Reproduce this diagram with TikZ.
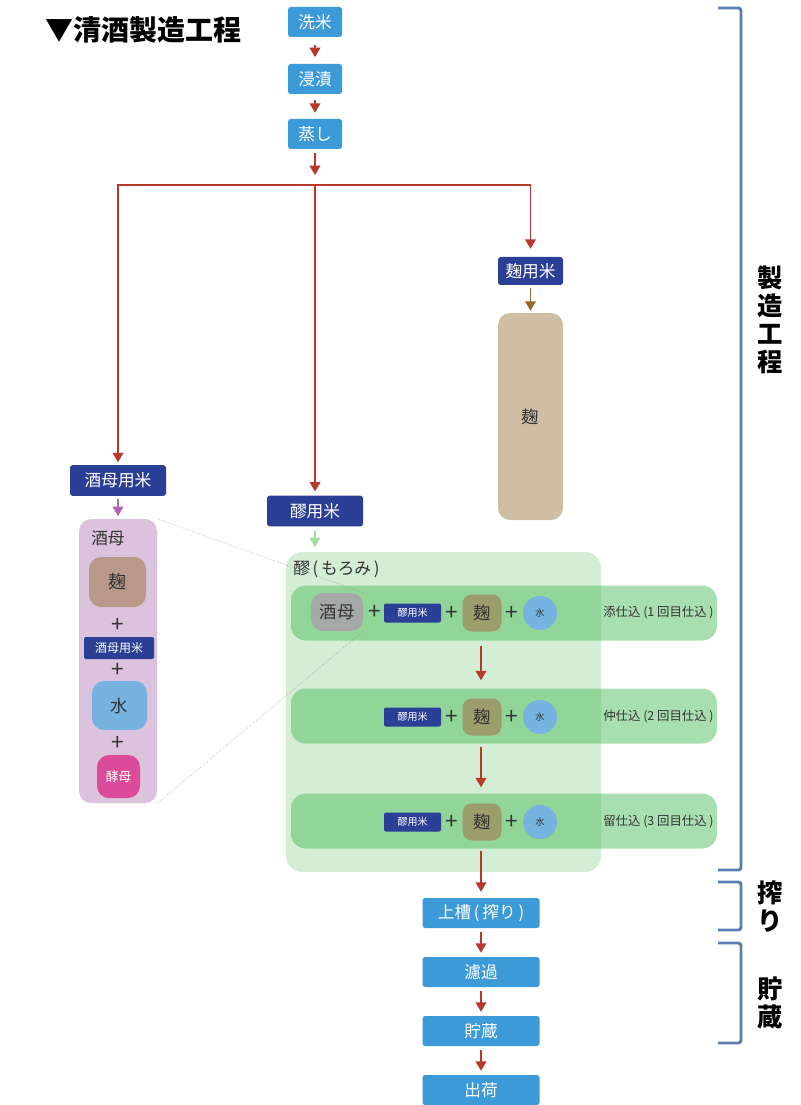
\documentclass[tikz,border=0pt]{standalone}
\usepackage{fontspec}
\setmainfont{Noto Sans CJK JP}
\usetikzlibrary{arrows.meta,positioning}

\definecolor{stepblue}{HTML}{3D9AD8}
\definecolor{riceblue}{HTML}{2B3F97}
\definecolor{flowred}{HTML}{B8392C}
\definecolor{kojitan}{HTML}{CEBFA4}
\definecolor{shubolilac}{HTML}{DBC3DE}
\definecolor{kojimauve}{HTML}{B9998A}
\definecolor{waterblue}{HTML}{77B3E0}
\definecolor{yeastpink}{HTML}{DC4B9A}
\definecolor{moromigreen}{HTML}{D4EED6}
\definecolor{rowgreen}{HTML}{44B953}
\definecolor{shubogray}{HTML}{A6A9A8}
\definecolor{kojiolive}{HTML}{9C9D6C}
\definecolor{bracketblue}{HTML}{5B7EB2}
\definecolor{inktext}{HTML}{333333}

\begin{document}
\begin{tikzpicture}[
        x=0.75pt, y=-0.75pt,
        every node/.style = {inner sep=0pt, align=center},
        stepbox/.style = {fill=stepblue, rounded corners=2pt, text=white, minimum width=40.5pt, minimum height=22.5pt, font=\fontsize{12.5}{14}\selectfont},
        ricebox/.style = {fill=riceblue, rounded corners=2pt, text=white, minimum width=72pt, minimum height=23pt, font=\fontsize{12.5}{14}\selectfont},
        smallrice/.style = {fill=riceblue, rounded corners=1.5pt, text=white, minimum width=42.75pt, minimum height=14.25pt, font=\fontsize{7.5}{9}\selectfont},
        blob/.style = {rounded corners=9pt, text=inktext},
        water/.style = {circle, fill=waterblue, minimum size=25.5pt, text=inktext, font=\fontsize{7}{8}\selectfont},
        plus/.style = {text=inktext, font=\fontsize{17}{17}\selectfont},
        rowband/.style = {fill=rowgreen, fill opacity=0.46, rounded corners=11pt, minimum width=319.5pt, minimum height=41.25pt},
        rowlabel/.style = {anchor=west, text=inktext, font=\fontsize{9.3}{11}\selectfont},
        flow/.style = {-{Triangle[width=8pt,length=7pt]}, draw=flowred, line width=1pt},
        bracket/.style = {draw=bracketblue, line width=2.2pt, rounded corners=2pt},
        sidelabel/.style = {font=\fontsize{19}{21}\selectfont\bfseries}
    ]
    \useasboundingbox (0,0) rectangle (800,1105);

    \node[anchor=west, font=\fontsize{21}{24}\selectfont\bfseries] (title) at (45,30) {▼清酒製造工程};

    % main line
    \node[stepbox] (senmai) at (315,22) {洗米};
    \node[stepbox] (shinseki) at (315,79) {浸漬};
    \node[stepbox] (mushi) at (315,134) {蒸し};
    \coordinate (split) at (315,185);

    \node[ricebox, minimum width=48.75pt, minimum height=21pt] (kojimai) at (530.5,271) {麹用米};
    \node[blob, fill=kojitan, minimum width=48.75pt, minimum height=155.25pt, font=\fontsize{13}{14}\selectfont] (koji) at (530.5,416.5) {麹};

    \node[ricebox] (shubomai) at (118,480.5) {酒母用米};
    \node[ricebox] (moromimai) at (315,511) {醪用米};

    % shubo
    \node[fill=shubolilac, rounded corners=9pt, minimum width=58.5pt, minimum height=213pt] (shubo) at (118,661) {};
    \node[anchor=west, text=inktext, font=\fontsize{12.5}{14}\selectfont] (shubolabel) at (91,538) {酒母};
    \node[blob, fill=kojimauve, minimum width=42.75pt, minimum height=37.5pt, font=\fontsize{13.5}{14}\selectfont] (shubokoji) at (117.5,582) {麹};
    \node[plus] (plusS1) at (118,625) {+};
    \node[smallrice, minimum width=52.5pt, minimum height=16.5pt, font=\fontsize{9}{10}\selectfont] (shuborice) at (119,648) {酒母用米};
    \node[plus] (plusS2) at (118,670) {+};
    \node[blob, fill=waterblue, minimum width=41.25pt, minimum height=36.75pt, font=\fontsize{13}{14}\selectfont] (shubomizu) at (119.5,705.5) {水};
    \node[plus] (plusS3) at (118,743) {+};
    \node[blob, fill=yeastpink, text=white, minimum size=32.25pt, font=\fontsize{9.5}{10}\selectfont] (kobo) at (118.5,776.5) {酵母};

    % moromi
    \node[fill=moromigreen, rounded corners=12pt, minimum width=236.25pt, minimum height=240pt] (moromi) at (443.5,712) {};
    \node[anchor=west, text=inktext, font=\fontsize{12.5}{14}\selectfont] (moromilabel) at (293,569) {醪\,(\,もろみ\,)};

    \node[rowband] (rowA) at (504,613) {};
    \node[rowband] (rowB) at (504,716) {};
    \node[rowband] (rowC) at (504,821) {};

    \node[blob, fill=shubogray, minimum width=39pt, minimum height=28.5pt, font=\fontsize{13}{14}\selectfont] (shuboA) at (337,612) {酒母};
    \node[plus] (plusA0) at (375,612) {+};
    \foreach \r/\y in {A/613, B/717, C/822} {
        \node[smallrice] (rice\r) at (412.5,\y) {醪用米};
        \node[plus] (plus\r1) at (451.5,\y) {+};
        \node[blob, fill=kojiolive, rounded corners=7pt, minimum width=29.25pt, minimum height=27.75pt, font=\fontsize{13}{14}\selectfont] (koji\r) at (482,\y) {麹};
        \node[plus] (plus\r2) at (511.5,\y) {+};
        \node[water] (mizu\r) at (540,\y) {水};
    }
    \node[rowlabel] (labelA) at (603,613) {添仕込 (1 回目仕込 )};
    \node[rowlabel] (labelB) at (603,717) {仲仕込 (2 回目仕込 )};
    \node[rowlabel] (labelC) at (603,822) {留仕込 (3 回目仕込 )};

    \draw[gray!80, densely dotted, thin] (shubo.north east) -- (shuboA.north east);
    \draw[gray!80, densely dotted, thin] (shubo.south east) -- (shuboA.south east);

    % after moromi
    \node[stepbox, minimum width=87.75pt] (joso) at (481,913) {上槽\,(\,搾り\,)};
    \node[stepbox, minimum width=87.75pt] (roka) at (481,972) {濾過};
    \node[stepbox, minimum width=87.75pt] (chozo) at (481,1031) {貯蔵};
    \node[stepbox, minimum width=87.75pt] (shukka) at (481,1090) {出荷};

    % arrows
    \draw[flow, shorten <=6pt, shorten >=5pt] (senmai) -- (shinseki);
    \draw[flow, shorten <=4.5pt, shorten >=4.5pt] (shinseki) -- (mushi);
    \draw[flow, shorten <=3pt, shorten >=7.5pt] (mushi) -- (split);
    \draw[flow, shorten >=2pt] (split) -| (shubomai);
    \draw[flow, shorten >=3pt] (split) -- (moromimai);
    \draw[flow, shorten >=6pt] (split) -| (kojimai);
    \draw[flow, draw=brown!80!black, shorten <=2pt, shorten >=1.5pt] (kojimai) -- (koji);
    \draw[flow, draw=violet!60, shorten <=2pt, shorten >=2pt] (shubomai) -- (shubo);
    \draw[flow, draw=green!45!gray!50, shorten <=3pt, shorten >=3.5pt] (moromimai.south) -- (moromimai.south |- moromi.north);
    \draw[flow, shorten <=3.75pt, shorten >=6pt] (rowA.south -| joso) -- (rowB.north -| joso);
    \draw[flow, shorten <=2.5pt, shorten >=4.5pt] (rowB.south -| joso) -- (rowC.north -| joso);
    \draw[flow, shorten <=2pt, shorten >=4.5pt] (rowC.south -| joso) -- (joso);
    \draw[flow, shorten <=3pt, shorten >=3pt] (joso) -- (roka);
    \draw[flow, shorten <=3pt, shorten >=3pt] (roka) -- (chozo);
    \draw[flow, shorten <=3pt, shorten >=3pt] (chozo) -- (shukka);

    % brackets
    \draw[bracket] (718,8) -- (741,8) -- (741,870) -- (718,870);
    \draw[bracket] (718,882) -- (741,882) -- (741,930) -- (718,930);
    \draw[bracket] (718,943) -- (741,943) -- (741,1043) -- (718,1043);
    \node[sidelabel] (seizolabel) at (770,320) {製\\造\\工\\程};
    \node[sidelabel] (shiborilabel) at (770,907) {搾\\り};
    \node[sidelabel] (chozolabel) at (770,1003) {貯\\蔵};
\end{tikzpicture}
\end{document}
